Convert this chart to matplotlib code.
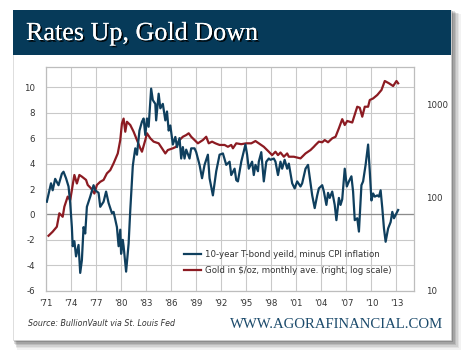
import numpy as np
import matplotlib
matplotlib.use('Agg')
import matplotlib.pyplot as plt
import matplotlib.patheffects as pe
from matplotlib.patches import Rectangle
from matplotlib.ticker import FixedLocator, NullLocator

# real 10-year yield minus CPI inflation (%)
rate_years = [
    1971.1, 1971.6, 1971.8, 1972.1, 1972.5, 1972.9, 1973.1, 1973.4, 1973.7, 1973.9,
    1974.1, 1974.2, 1974.4, 1974.6, 1974.9, 1975.1, 1975.3, 1975.5, 1975.7, 1975.9,
    1976.3, 1976.7, 1976.9, 1977.3, 1977.5, 1977.9, 1978.2, 1978.5, 1978.9, 1979.1,
    1979.5, 1979.7, 1979.9, 1980.0, 1980.2, 1980.3, 1980.6, 1980.9, 1981.1, 1981.4,
    1981.5, 1981.7, 1981.9, 1982.2, 1982.5, 1982.7, 1982.9, 1983.1, 1983.3, 1983.6,
    1983.8, 1984.1, 1984.2, 1984.5, 1984.7, 1985.0, 1985.3, 1985.5, 1985.7, 1985.9,
    1986.2, 1986.5, 1986.7, 1987.0, 1987.2, 1987.4, 1987.6, 1987.8, 1988.2, 1988.4,
    1988.8, 1989.0, 1989.4, 1989.7, 1990.0, 1990.4, 1990.6, 1991.0, 1991.4, 1991.8,
    1992.2, 1992.6, 1993.0, 1993.2, 1993.6, 1993.8, 1994.0, 1994.4, 1994.6, 1994.9,
    1995.1, 1995.3, 1995.7, 1995.9, 1996.1, 1996.4, 1996.5, 1996.8, 1997.1, 1997.4,
    1997.7, 1997.9, 1998.3, 1998.5, 1998.8, 1999.1, 1999.3, 1999.6, 1999.9, 2000.1,
    2000.5, 2000.8, 2001.1, 2001.5, 2001.7, 2002.1, 2002.4, 2002.7, 2002.9, 2003.2,
    2003.5, 2003.7, 2004.1, 2004.3, 2004.6, 2004.8, 2005.0, 2005.3, 2005.6, 2005.8,
    2006.1, 2006.3, 2006.5, 2006.8, 2007.05, 2007.3, 2007.6, 2007.8, 2008.0, 2008.3,
    2008.5, 2008.8, 2009.0, 2009.3, 2009.6, 2009.8, 2010.0, 2010.2, 2010.4, 2010.7,
    2010.9, 2011.1, 2011.3, 2011.5, 2011.7, 2012.0, 2012.3, 2012.5, 2012.7, 2013.0,
    2013.2,
]
rate_values = [
    1.0, 2.45, 1.9, 2.8, 2.3, 3.2, 3.36, 2.85, 2.2, 0.9,
    -1.0, -2.5, -2.1, -3.3, -2.4, -4.6, -3.6, -1.0, -1.5, 0.6,
    1.4, 2.3, 1.9, 1.7, 0.6, 1.0, 1.8, 0.9, 0.1, 0.2,
    -1.0, -2.5, -1.2, -3.1, -2.0, -2.5, -4.5, -2.3, 0.35, 3.8,
    4.3, 5.2, 4.7, 6.6, 7.3, 7.55, 6.25, 7.55, 6.9, 9.9,
    9.0, 8.7, 7.4, 9.5, 8.35, 8.7, 7.4, 8.1, 6.6, 7.0,
    5.5, 6.1, 5.3, 6.0, 4.4, 5.3, 4.4, 5.1, 4.4, 5.2,
    5.2, 4.9, 3.9, 2.85, 3.9, 4.7, 2.85, 1.5, 3.4, 4.7,
    4.8, 3.9, 4.15, 3.1, 3.6, 2.7, 2.6, 4.15, 4.7, 5.5,
    4.7, 3.6, 4.15, 3.1, 3.9, 3.4, 4.15, 4.9, 2.6, 4.15,
    4.4, 4.3, 4.4, 4.15, 3.1, 4.15, 3.6, 4.3, 3.6, 4.0,
    2.45, 2.05, 2.6, 2.2, 2.45, 3.6, 3.9, 2.45, 1.5, 0.5,
    1.5, 2.05, 2.3, 1.8, 0.75, 1.7, 1.3, 1.8, 0.75, -0.45,
    1.3, 0.75, 1.2, 3.6, 2.2, 2.6, 3.0, 1.8, -0.45, -0.3,
    -1.35, 2.3, 2.6, 3.9, 5.5, 3.4, 1.1, 1.65, 1.4, 1.5,
    1.4, 1.9, 0.5, -1.1, -2.15, -1.1, -0.6, 0.2, -0.3, 0.1,
    0.35,
]

# gold, $/oz monthly average (right axis, log)
gold_years = [
    1971.3, 1971.8, 1972.3, 1972.6, 1973.0, 1973.2, 1973.6, 1973.9, 1974.2, 1974.4,
    1974.7, 1975.0, 1975.3, 1975.8, 1976.0, 1976.4, 1976.8, 1977.1, 1977.5, 1977.9,
    1978.3, 1978.7, 1979.1, 1979.6, 1979.9, 1980.1, 1980.3, 1980.5, 1980.7, 1981.1,
    1981.5, 1981.9, 1982.3, 1982.5, 1982.9, 1983.1, 1983.5, 1983.9, 1984.5, 1984.9,
    1985.3, 1985.6, 1986.2, 1986.6, 1987.0, 1987.4, 1987.8, 1988.1, 1988.4, 1988.8,
    1989.2, 1989.8, 1990.2, 1990.5, 1990.9, 1991.3, 1991.8, 1992.4, 1992.8, 1993.2,
    1993.4, 1993.8, 1994.4, 1995.0, 1995.6, 1996.1, 1996.5, 1997.1, 1997.7, 1998.1,
    1998.5, 1998.8, 1999.1, 1999.5, 1999.9, 2000.1, 2000.7, 2001.5, 2002.1, 2002.7,
    2003.1, 2003.3, 2003.7, 2004.1, 2004.4, 2004.8, 2005.3, 2005.7, 2006.1, 2006.5,
    2006.8, 2007.1, 2007.7, 2008.3, 2008.6, 2008.9, 2009.2, 2009.6, 2009.8, 2010.2,
    2010.7, 2011.2, 2011.6, 2012.1, 2012.6, 2013.0, 2013.2,
]
gold_values = [
    38.8, 42.9, 48.5, 67.6, 62, 79.5, 102, 93.5, 136, 174,
    141, 174, 167, 154, 136, 125, 110, 136, 147, 154,
    181, 196, 232, 296, 412, 620, 700, 506, 647, 597,
    506, 412, 336, 309, 412, 487, 430, 396, 380, 336,
    296, 322, 336, 349, 412, 447, 466, 487, 447, 412,
    380, 412, 447, 380, 396, 380, 365, 365, 349, 365,
    336, 380, 372, 380, 380, 402, 380, 349, 309, 284,
    309, 284, 303, 273, 296, 273, 273, 262, 296, 322,
    349, 365, 396, 390, 412, 390, 430, 447, 551, 690,
    597, 660, 635, 938, 915, 733, 938, 938, 1107, 1150,
    1253, 1416, 1770, 1672, 1563, 1770, 1672,
]

x_ticks = list(range(1971, 2014, 3))
x_labels = ["'%02d" % (y % 100) for y in x_ticks]
left_ticks = [-6, -4, -2, 0, 2, 4, 6, 8, 10]
right_ticks = [10, 100, 1000]

W, H = 470, 362
fig = plt.figure(figsize=(W / 100, H / 100), dpi=100)
fig.patch.set_facecolor('white')


def box(x0, y0, x1, y1, **kw):
    # pixel box (top-left origin) -> figure fraction
    r = Rectangle((x0 / W, 1 - y1 / H), (x1 - x0) / W, (y1 - y0) / H,
                  transform=fig.transFigure, **kw)
    fig.add_artist(r)
    return r


# soft drop shadow of the card
for i, a in enumerate([0.05, 0.06, 0.08, 0.10, 0.12, 0.14]):
    d = 10 - i * 1.6
    box(13 + d * 0.4, 10 + d * 0.4, 451 + d, 340 + d, facecolor='black',
        edgecolor='none', alpha=a, zorder=0)
box(13, 10, 451, 340, facecolor='white', edgecolor='#d0d0d0', linewidth=0.5, zorder=1)
box(13, 10, 451, 55, facecolor='#063a59', edgecolor='none', zorder=2)

fig.text(26 / W, 1 - 34 / H, 'Rates Up, Gold Down', fontsize=18.8,
         family='Liberation Serif', color='white', va='center', ha='left', zorder=3,
         path_effects=[pe.withSimplePatchShadow(offset=(1.2, -1.2), shadow_rgbFace='black', alpha=0.9),
                       pe.Normal()])

ax = fig.add_axes([46 / W, 1 - 290.7 / H, (414 - 46) / W, (290.7 - 67) / H])
ax.set_zorder(3)
ax.patch.set_visible(False)
ax.set_xlim(1971, 2015.1)
ax.set_ylim(-6, 11.6)

ax.xaxis.set_major_locator(FixedLocator(x_ticks))
ax.set_xticklabels(x_labels)
ax.yaxis.set_major_locator(FixedLocator(left_ticks))
ax.set_yticklabels([str(v) for v in left_ticks])
ax.tick_params(length=0, labelsize=6.2, labelcolor='#333333', pad=8)
ax.tick_params(axis='x', pad=6)
ax.grid(True, color='#c9c9c9', linewidth=0.8)
ax.set_axisbelow(True)
ax.axhline(0, color='#8c8c8c', linewidth=0.9, zorder=1)
for s in ax.spines.values():
    s.set_color('#bdbdbd')
    s.set_linewidth(0.9)

ax2 = ax.twinx()
ax2.set_yscale('log')
ax2.set_ylim(10, 2500)
ax2.yaxis.set_major_locator(FixedLocator(right_ticks))
ax2.yaxis.set_minor_locator(NullLocator())
ax2.set_yticklabels([str(v) for v in right_ticks])
ax2.tick_params(length=0, labelsize=6.2, labelcolor='#333333', pad=9)
for s in ax2.spines.values():
    s.set_visible(False)

blue = '#0f3f5e'
red = '#8c1b22'
l2, = ax2.plot(gold_years, gold_values, color=red, linewidth=1.6,
               label='Gold in $/oz, monthly ave. (right, log scale)')
# rate series drawn on the log axis, mapped from the left scale
l1, = ax2.plot(rate_years, [10 ** (1 + (v + 6) / 7.34) for v in rate_values],
               color=blue, linewidth=1.6, label='10-year T-bond yeild, minus CPI inflation')

leg = ax.legend(handles=[l1, l2], loc='lower left', bbox_to_anchor=(0.365, 0.055),
                frameon=False, fontsize=6.2, handlelength=2.0, handletextpad=0.5,
                labelspacing=0.85, borderaxespad=0)
for t in leg.get_texts():
    t.set_color('#333333')
leg.set_zorder(10)

fig.text(28 / W, 1 - 323 / H, 'Source: BullionVault via St. Louis Fed', fontsize=5.7,
         style='italic', color='#333333', va='center', ha='left', zorder=3)
fig.text(443 / W, 1 - 325 / H, 'WWW.AGORAFINANCIAL.COM', fontsize=10.6,
         family='Liberation Serif', color='#1b4a6b', va='center', ha='right', zorder=3)

fig.savefig('out.png', dpi=100, facecolor='white')
